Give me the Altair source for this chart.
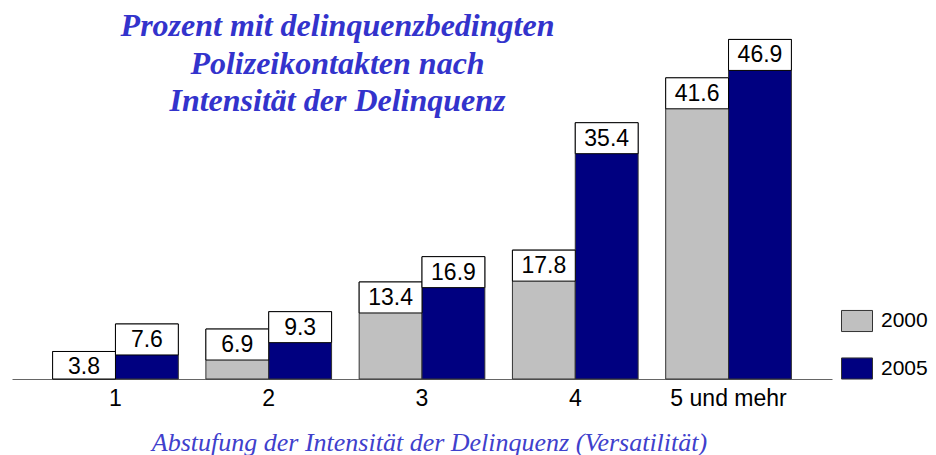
import altair as alt
import pandas as pd

categories = ["1", "2", "3", "4", "5 und mehr"]
years = ["2000", "2005"]
values_2000 = [3.8, 6.9, 13.4, 17.8, 41.6]
values_2005 = [7.6, 9.3, 16.9, 35.4, 46.9]
title_lines = ["Prozent mit delinquenzbedingten", "Polizeikontakten nach", "Intensität der Delinquenz"]
x_title = "Abstufung der Intensität der Delinquenz (Versatilität)"

rows = []
for c, a, b in zip(categories, values_2000, values_2005):
    rows.append({"cat": c, "year": "2000", "value": a})
    rows.append({"cat": c, "year": "2005", "value": b})
df = pd.DataFrame(rows)

BOX = 4.28  # label box height in data units

x_enc = alt.X("cat:N", sort=categories,
              scale=alt.Scale(paddingInner=0.18, paddingOuter=0.265),
              axis=alt.Axis(title=x_title, domainColor="#666666", domainWidth=1,
                            ticks=False, grid=False, labelAngle=0,
                            labelFontSize=23, labelFont="Liberation Sans",
                            labelColor="black", labelPadding=8,
                            titleFont="Liberation Serif", titleFontStyle="italic",
                            titleFontWeight="normal", titleFontSize=26,
                            titleColor="#4040CC", titlePadding=19, titleX=417))
xo = alt.XOffset("year:N", sort=years, scale=alt.Scale(paddingInner=0, paddingOuter=0))
y_scale = alt.Scale(domain=[0, 50], nice=False)

bars = alt.Chart(df).mark_bar(stroke="#333333", strokeWidth=1).encode(
    x=x_enc,
    xOffset=xo,
    y=alt.Y("value:Q", scale=y_scale, axis=None),
    color=alt.Color("year:N", sort=years,
                    scale=alt.Scale(domain=years, range=["#C0C0C0", "#000080"]),
                    legend=alt.Legend(orient="none", legendX=829, legendY=288,
                                      title=None, padding=0,
                                      symbolType="M-1,-0.68H1V0.68H-1Z",
                                      symbolSize=961, symbolStrokeColor="#333333",
                                      symbolStrokeWidth=1, symbolOffset=0,
                                      labelFontSize=21, labelFont="Liberation Sans",
                                      labelColor="black", labelOffset=8,
                                      rowPadding=18.5)),
)

boxes = alt.Chart(df).transform_calculate(
    lo=f"max(datum.value - {BOX}, 0)"
).mark_bar(fill="white", stroke="black", strokeWidth=1, width={"band": 1}).encode(
    x=alt.X("cat:N", sort=categories),
    xOffset=xo,
    y=alt.Y("value:Q", scale=y_scale),
    y2="lo:Q",
)

labels = alt.Chart(df).mark_text(font="Liberation Sans", fontSize=23, color="black",
                                 baseline="middle", dy=16).encode(
    x=alt.X("cat:N", sort=categories),
    xOffset=xo,
    y=alt.Y("value:Q", scale=y_scale),
    text=alt.Text("value:Q", format=".1f"),
)

title_df = pd.DataFrame({"t": ["\n".join(title_lines)]})
title = alt.Chart(title_df).mark_text(
    font="Liberation Serif", fontStyle="italic", fontWeight="bold", fontSize=32,
    color="#3333CC", align="center", baseline="alphabetic",
    lineBreak="\n", lineHeight=37.5,
).encode(text="t:N", x=alt.value(325.5), y=alt.value(19))

chart = alt.layer(bars, boxes, labels, title).properties(
    width=820, height=362,
    autosize=alt.AutoSizeParams(type="none"),
    padding={"left": 4, "top": 9, "right": 96, "bottom": 76},
).configure_view(stroke=None)

chart.save("out.html", embed_options={"renderer": "svg", "actions": False})
